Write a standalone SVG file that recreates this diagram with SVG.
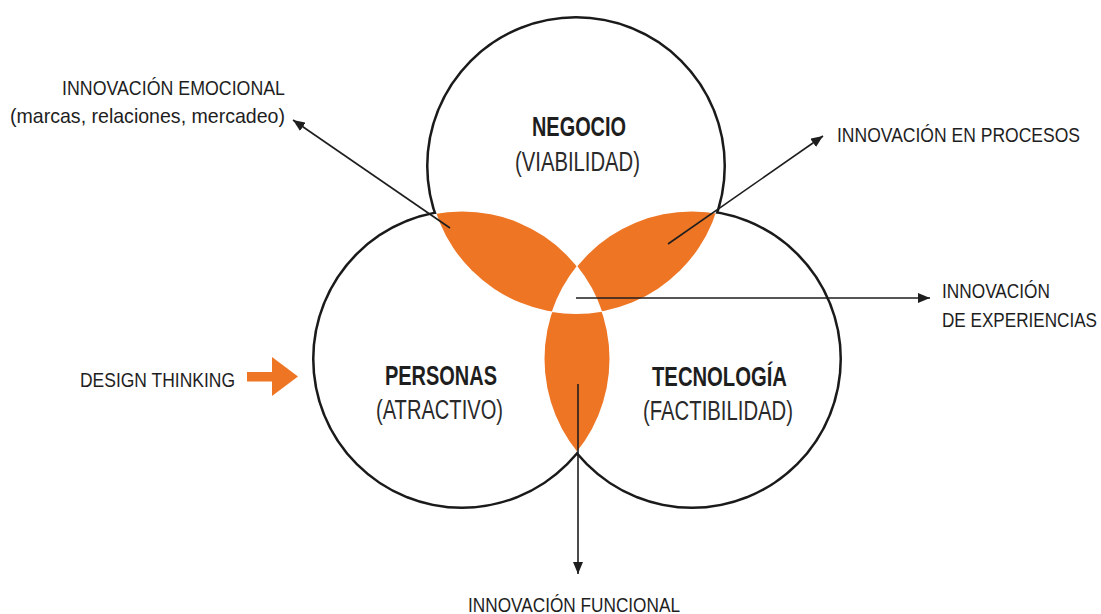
<svg xmlns="http://www.w3.org/2000/svg" width="1101" height="614" viewBox="0 0 1101 614">
  <style>
    .lbl { font-family: "Liberation Sans", Arial, sans-serif; font-size: 21px; fill: #1e1e1e; }
    .title { font-family: "Liberation Sans", Arial, sans-serif; font-size: 28px; font-weight: bold; fill: #1e1e1e; }
    .sub { font-family: "Liberation Sans", Arial, sans-serif; font-size: 27px; fill: #2a2a2a; }
    .outline { fill: none; stroke: #1a1a1a; stroke-width: 6; }
    .blank { fill: #ffffff; stroke: none; }
    .lens { fill: #ED7524; }
    .conn { fill: none; stroke: #1e1e1e; stroke-width: 1.6; marker-end: url(#arrow); }
  </style>
  <defs>
    <marker id="arrow" viewBox="0 0 12 10" refX="12" refY="5" markerWidth="12" markerHeight="10" markerUnits="userSpaceOnUse" orient="auto">
      <path d="M0,0 L12,5 L0,10 z" fill="#1e1e1e"/>
    </marker>
    <clipPath id="clipT"><circle cx="576" cy="166" r="147.5"/></clipPath>
    <clipPath id="clipL"><circle cx="462" cy="359" r="147.5"/></clipPath>
  </defs>
  <rect width="1101" height="614" fill="#ffffff"/>

  <g id="venn">
    <circle class="outline" cx="576" cy="166" r="147"/>
    <circle class="outline" cx="462" cy="359" r="147"/>
    <circle class="outline" cx="692" cy="359" r="147"/>
    <circle class="blank" cx="576" cy="166" r="147.5"/>
    <circle class="blank" cx="462" cy="359" r="147.5"/>
    <circle class="blank" cx="692" cy="359" r="147.5"/>
    <circle class="lens" cx="462" cy="359" r="147.5" clip-path="url(#clipT)"/>
    <circle class="lens" cx="692" cy="359" r="147.5" clip-path="url(#clipT)"/>
    <circle class="lens" cx="692" cy="359" r="147.5" clip-path="url(#clipL)"/>
    <path class="blank" d="M577,265.8 A148,148 0 0 0 551.7,312 A148,148 0 0 0 602.2,311.7 A148,148 0 0 0 577,265.8 Z"/>
  </g>

  <g id="node-negocio">
    <text class="title" x="532" y="136" textLength="94" lengthAdjust="spacingAndGlyphs">NEGOCIO</text>
    <text class="sub" x="515" y="171" textLength="125" lengthAdjust="spacingAndGlyphs">(VIABILIDAD)</text>
  </g>
  <g id="node-personas">
    <text class="title" x="385" y="385" textLength="112" lengthAdjust="spacingAndGlyphs">PERSONAS</text>
    <text class="sub" x="376" y="419" textLength="127" lengthAdjust="spacingAndGlyphs">(ATRACTIVO)</text>
  </g>
  <g id="node-tecnologia">
    <text class="title" x="652" y="386" textLength="135" lengthAdjust="spacingAndGlyphs">TECNOLOGÍA</text>
    <text class="sub" x="643" y="420" textLength="150" lengthAdjust="spacingAndGlyphs">(FACTIBILIDAD)</text>
  </g>

  <g id="connectors">
    <line class="conn" x1="450" y1="228" x2="293" y2="120"/>
    <line class="conn" x1="668" y1="244" x2="823" y2="136"/>
    <line class="conn" x1="576" y1="298" x2="930" y2="298"/>
    <line class="conn" x1="578" y1="384" x2="578" y2="574"/>
    <g id="design-arrow" fill="#ED7524">
      <rect x="247" y="372" width="28" height="9.5"/>
      <path d="M272,357 L298,376.5 L272,396 Z"/>
    </g>
  </g>

  <g id="label-emocional">
    <text class="lbl" x="62" y="95" textLength="223" lengthAdjust="spacingAndGlyphs">INNOVACIÓN EMOCIONAL</text>
    <text class="lbl" x="10" y="123" textLength="275" lengthAdjust="spacingAndGlyphs">(marcas, relaciones, mercadeo)</text>
  </g>
  <g id="label-procesos">
    <text class="lbl" transform="translate(837,142) scale(1,1.19)" x="0" y="0" style="font-size:17.6px" textLength="243" lengthAdjust="spacingAndGlyphs">INNOVACIÓN EN PROCESOS</text>
  </g>
  <g id="label-experiencias">
    <text class="lbl" x="942" y="298" textLength="108" lengthAdjust="spacingAndGlyphs">INNOVACIÓN</text>
    <text class="lbl" transform="translate(942,327) scale(1,1.225)" x="0" y="0" style="font-size:17.1px" textLength="155" lengthAdjust="spacingAndGlyphs">DE EXPERIENCIAS</text>
  </g>
  <g id="label-design">
    <text class="lbl" x="80" y="387" textLength="155" lengthAdjust="spacingAndGlyphs">DESIGN THINKING</text>
  </g>
  <g id="label-funcional">
    <text class="lbl" x="468" y="612" textLength="212" lengthAdjust="spacingAndGlyphs">INNOVACIÓN FUNCIONAL</text>
  </g>
</svg>
